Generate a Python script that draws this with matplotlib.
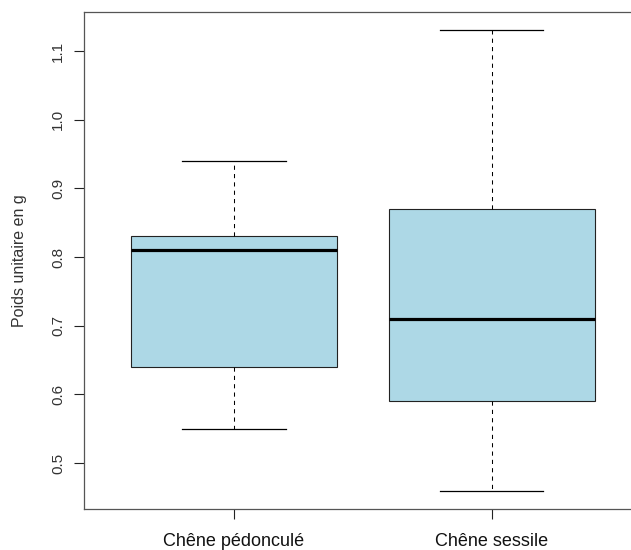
import matplotlib
matplotlib.use("Agg")
import matplotlib.pyplot as plt

# box statistics
categories = ["Chêne pédonculé", "Chêne sessile"]
whisker_low = [0.55, 0.46]
q1 = [0.64, 0.59]
median = [0.81, 0.71]
q3 = [0.83, 0.87]
whisker_high = [0.94, 1.13]
y_ticks = [0.5, 0.6, 0.7, 0.8, 0.9, 1.0, 1.1]

plt.rcParams['font.family'] = ['Liberation Sans', 'DejaVu Sans']

stats = []
for i, name in enumerate(categories):
    stats.append({
        "label": name,
        "whislo": whisker_low[i],
        "q1": q1[i],
        "med": median[i],
        "q3": q3[i],
        "whishi": whisker_high[i],
        "fliers": [],
    })

fig = plt.figure(figsize=(6.31, 5.5), dpi=100)
ax = fig.add_axes([0.1339, 0.0745, 0.8824, 0.9036])

ax.bxp(stats, positions=[1, 2], widths=0.8, patch_artist=True, showfliers=False,
       boxprops=dict(facecolor="#ADD8E6", edgecolor="#222222", linewidth=0.8),
       medianprops=dict(color="black", linewidth=2.3, solid_capstyle="butt"),
       whiskerprops=dict(color="black", linewidth=0.75, linestyle=(0, (4, 4))),
       capprops=dict(color="black", linewidth=0.9),
       capwidths=0.4)

ax.set_xlim(0.42, 2.58)
ax.set_ylim(0.4332, 1.1568)
ax.set_yticks(y_ticks)
ax.set_yticklabels([f"{v:.1f}" for v in y_ticks], rotation=90, va="center",
                   fontsize=11, color="#333333")
ax.set_xticks([1, 2])
ax.set_xticklabels(categories, fontsize=13, color="#111111")
ax.tick_params(axis="both", length=7, width=0.8, color="#222222")
ax.tick_params(axis="y", pad=7)
ax.tick_params(axis="x", pad=10.5)
ax.set_ylabel("Poids unitaire en g", fontsize=11.5, labelpad=17, color="#333333")

for sp in ax.spines.values():
    sp.set_color("#555555")
    sp.set_linewidth(0.9)

fig.savefig("out.png", dpi=100)
